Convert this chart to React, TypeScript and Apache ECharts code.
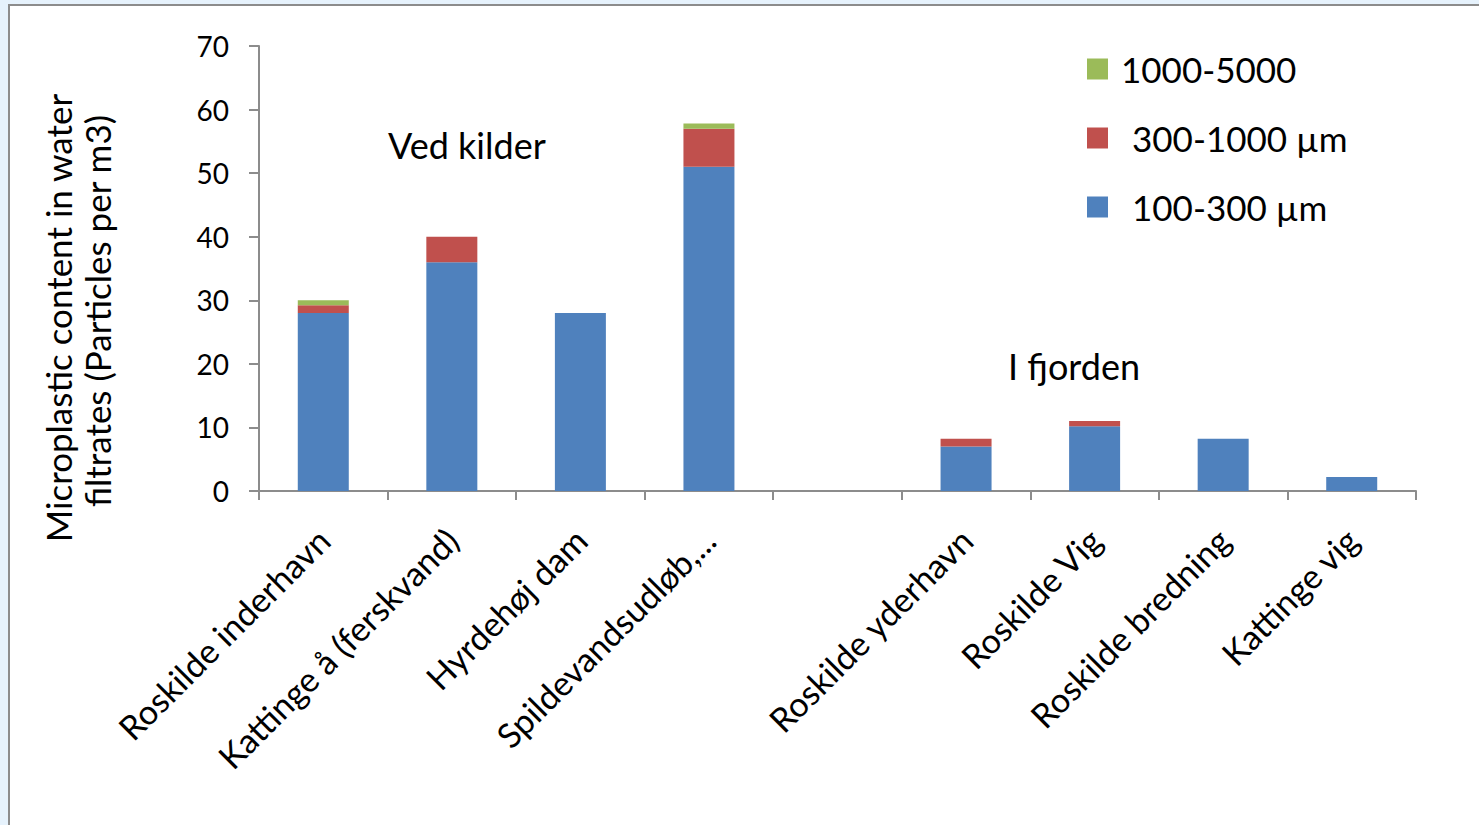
import React, { useEffect, useRef } from "react";
import * as echarts from "echarts";

const categories = [
  "Roskilde inderhavn",
  "Kattinge å (ferskvand)",
  "Hyrdehøj dam",
  "Spildevandsudløb,...",
  "",
  "Roskilde yderhavn",
  "Roskilde Vig",
  "Roskilde bredning",
  "Kattinge vig",
];
const size100to300 = [28, 36, 28, 51, 0, 7, 10.2, 8.2, 2.2];
const size300to1000 = [1.2, 4, 0, 6, 0, 1.2, 0.8, 0, 0];
const size1000to5000 = [0.8, 0, 0, 0.8, 0, 0, 0, 0, 0];
const seriesNames = ["100-300 µm", "300-1000 µm", "1000-5000"];
const yTicks = { min: 0, max: 70, interval: 10 };
const groupLabels = ["Ved kilder", "I fjorden"];
const titleLines = ["Microplastic content in water", "filtrates (Particles per m3)"];

const FONT = "Lato, 'Open Sans', sans-serif";

export default function App() {
  const ref = useRef<HTMLDivElement>(null);
  useEffect(() => {
    if (!ref.current) return;
    const chart = echarts.init(ref.current, null, { renderer: "svg" });
    const colors = ["#4F81BD", "#C0504D", "#9BBB59"];
    const data = [size100to300, size300to1000, size1000to5000];
    chart.setOption({
      animation: false,
      textStyle: { fontFamily: FONT },
      grid: { left: 259, right: 63, top: 46, bottom: 334, containLabel: false },
      legend: {
        orient: "vertical",
        left: 1082,
        top: 44,
        itemWidth: 21,
        itemHeight: 21,
        itemGap: 29,
        icon: "rect",
        selectedMode: false,
        textStyle: { fontSize: 35, color: "#000", lineHeight: 40, fontFamily: FONT },
        data: [
          { name: seriesNames[2], textStyle: { padding: [0, 0, 0, 8] } },
          { name: seriesNames[1], textStyle: { padding: [0, 0, 0, 19] } },
          { name: seriesNames[0], textStyle: { padding: [0, 0, 0, 19] } },
        ],
      },
      xAxis: {
        type: "category",
        data: categories,
        boundaryGap: true,
        axisLine: { show: true, lineStyle: { color: "#8c8c8c", width: 2 } },
        axisTick: { show: true, length: 9, alignWithLabel: false, lineStyle: { color: "#8c8c8c", width: 2 } },
        axisLabel: {
          rotate: 45,
          interval: 0,
          margin: 43,
          fontSize: 34,
          color: "#000",
          fontFamily: FONT,
        },
      },
      yAxis: {
        type: "value",
        min: yTicks.min,
        max: yTicks.max,
        interval: yTicks.interval,
        axisLine: { show: true, lineStyle: { color: "#8c8c8c", width: 2 } },
        axisTick: { show: true, length: 10, lineStyle: { color: "#8c8c8c", width: 2 } },
        splitLine: { show: false },
        axisLabel: { fontSize: 28, color: "#000", margin: 30, fontFamily: FONT },
      },
      series: seriesNames.map((name, i) => ({
        name,
        type: "bar",
        stack: "total",
        barWidth: 51,
        data: data[i],
        itemStyle: { color: colors[i] },
      })),
      graphic: [
        {
          type: "text",
          left: 388,
          top: 127,
          style: { text: groupLabels[0], fontSize: 36, fill: "#000", fontFamily: FONT },
        },
        {
          type: "text",
          left: 1008,
          top: 348,
          style: { text: groupLabels[1], fontSize: 36, fill: "#000", fontFamily: FONT },
        },
        {
          type: "text",
          x: 58,
          y: 318,
          rotation: Math.PI / 2,
          style: {
            text: titleLines[0],
            fontSize: 35,
            fill: "#000",
            fontFamily: FONT,
            align: "center",
            verticalAlign: "middle",
          },
        },
        {
          type: "text",
          x: 97,
          y: 311,
          rotation: Math.PI / 2,
          style: {
            text: titleLines[1],
            fontSize: 35,
            fill: "#000",
            fontFamily: FONT,
            align: "center",
            verticalAlign: "middle",
          },
        },
      ],
    });
    return () => chart.dispose();
  }, []);

  return (
    <div
      style={{
        position: "fixed",
        left: 0,
        top: 0,
        width: 1479,
        height: 825,
        background: "#e6f2fc",
        overflow: "hidden",
      }}
    >
      <div
        style={{
          position: "absolute",
          left: 8,
          top: 4,
          width: 1479,
          height: 830,
          background: "#fff",
          borderLeft: "2px solid #8c8c8c",
          borderTop: "2px solid #8c8c8c",
        }}
      />
      <div ref={ref} style={{ position: "absolute", left: 0, top: 0, width: 1479, height: 825 }} />
    </div>
  );
}
